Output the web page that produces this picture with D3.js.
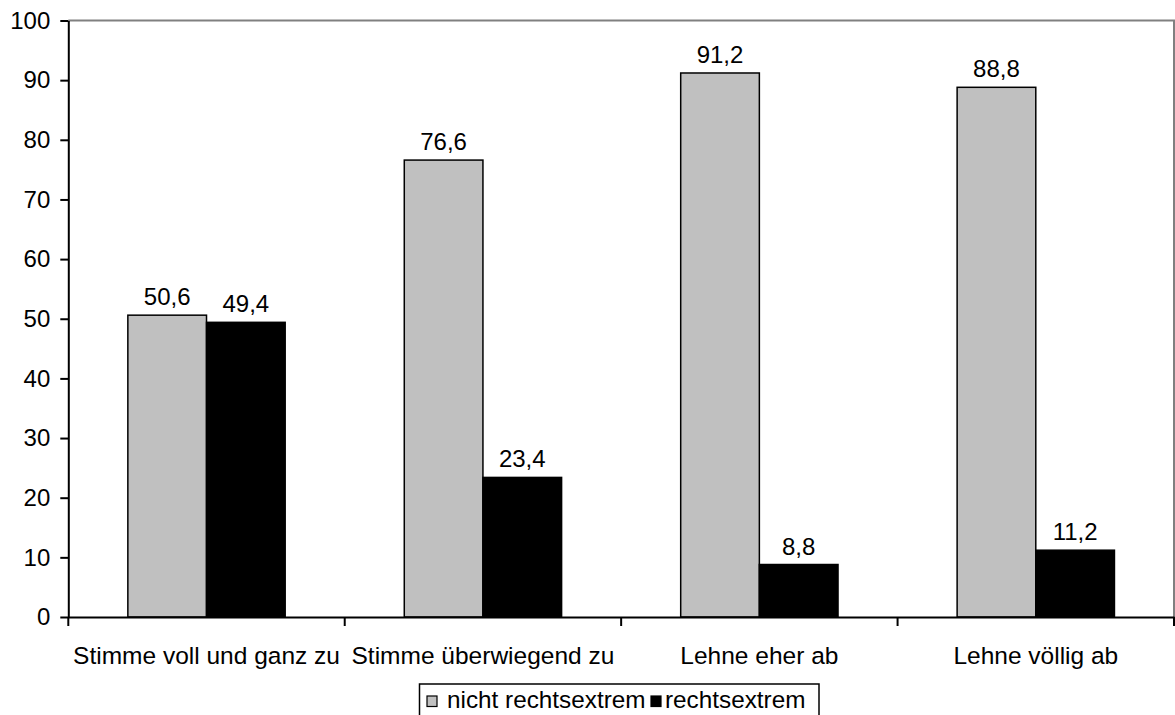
<!DOCTYPE html>
<html><head><meta charset="utf-8">
<script src="https://cdn.jsdelivr.net/npm/d3@7"></script>
<style>body{margin:0;background:#fff}svg{display:block}text{font-family:"Liberation Sans",Arial,sans-serif;fill:#000}</style>
</head><body><svg id="c" width="1175" height="715"></svg>
<script>
const categories = ["Stimme voll und ganz zu","Stimme überwiegend zu","Lehne eher ab","Lehne völlig ab"];
const seriesNames = ["nicht rechtsextrem","rechtsextrem"];
const nichtRechtsextrem = [50.6, 76.6, 91.2, 88.8];
const rechtsextrem = [49.4, 23.4, 8.8, 11.2];
const yTicks = [0,10,20,30,40,50,60,70,80,90,100];
const colors = ["#C0C0C0","#000000"];

const svg = d3.select("#c");
const L = 68.3, R = 1174, T = 20.5, B = 617;
const x0 = d3.scaleBand().domain(categories).range([L, R]).paddingInner(0).paddingOuter(0);
const x1 = d3.scaleBand().domain(seriesNames).range([0, x0.bandwidth()]).paddingInner(0).paddingOuter(0.757);
const y = d3.scaleLinear().domain([0,100]).range([B, T]);
const fs = 24;
const ff = '"Liberation Sans",Arial,sans-serif';

// plot border (top/right gray)
svg.append("path").attr("d", `M${L},${T}H${R}V${B}`).attr("fill","none").attr("stroke","#808080").attr("stroke-width",2);

const data = categories.map((c,i)=>({c, vals:[nichtRechtsextrem[i], rechtsextrem[i]]}));
const g = svg.selectAll("g.cat").data(data).join("g").attr("class","cat").attr("transform", d=>`translate(${x0(d.c)},0)`);
g.selectAll("rect").data(d=>d.vals.map((v,j)=>({v, s:seriesNames[j], j}))).join("rect")
  .attr("x", d=>x1(d.s)).attr("width", x1.bandwidth())
  .attr("y", d=>y(d.v)).attr("height", d=>B - y(d.v))
  .attr("fill", d=>colors[d.j]).attr("stroke","#000").attr("stroke-width",1.5);
g.selectAll("text.val").data(d=>d.vals.map((v,j)=>({v, s:seriesNames[j]}))).join("text").attr("class","val")
  .attr("x", d=>x1(d.s)+x1.bandwidth()/2).attr("y", d=>y(d.v)-10)
  .attr("text-anchor","middle").style("font-size", fs+"px")
  .text(d=>d.v.toFixed(1).replace(".",","));

// y axis
const ya = svg.append("g").attr("transform",`translate(${L},0)`)
  .call(d3.axisLeft(y).tickValues(yTicks).tickSize(8).tickPadding(10).tickSizeOuter(0));
ya.select(".domain").attr("stroke","#000").attr("stroke-width",2);
ya.selectAll(".tick line").attr("stroke","#000").attr("stroke-width",2);
ya.selectAll(".tick text").style("font-size", fs+"px").style("font-family",ff).attr("fill","#000");

// x axis
const xa = svg.append("g").attr("transform",`translate(0,${B})`)
  .call(d3.axisBottom(x0).tickSize(0).tickPadding(0).tickSizeOuter(0));
xa.select(".domain").attr("stroke","#000").attr("stroke-width",2);
xa.selectAll(".tick text").attr("dy",null).attr("y",47).style("font-size", "24.5px").style("font-family",ff).attr("fill","#000");
const bounds = categories.map(c=>x0(c)).concat([x0(categories[categories.length-1])+x0.bandwidth()]);
xa.selectAll("line.bt").data(bounds).join("line").attr("class","bt")
  .attr("x1",d=>d).attr("x2",d=>d).attr("y1",0).attr("y2",9).attr("stroke","#000").attr("stroke-width",2);

// legend
const lg = svg.append("g");
lg.append("rect").attr("x",419.5).attr("y",684).attr("width",399.5).attr("height",40).attr("fill","#fff").attr("stroke","#000").attr("stroke-width",1.5);
const lx = [427, 651];
const tx = [447, 665];
seriesNames.forEach((s,i)=>{
  lg.append("rect").attr("x",lx[i]).attr("y",696).attr("width",10).attr("height",10.5).attr("fill",colors[i]).attr("stroke","#000").attr("stroke-width",1.2);
  lg.append("text").attr("x",tx[i]).attr("y",708).style("font-size","24.3px").text(s);
});
</script></body></html>
